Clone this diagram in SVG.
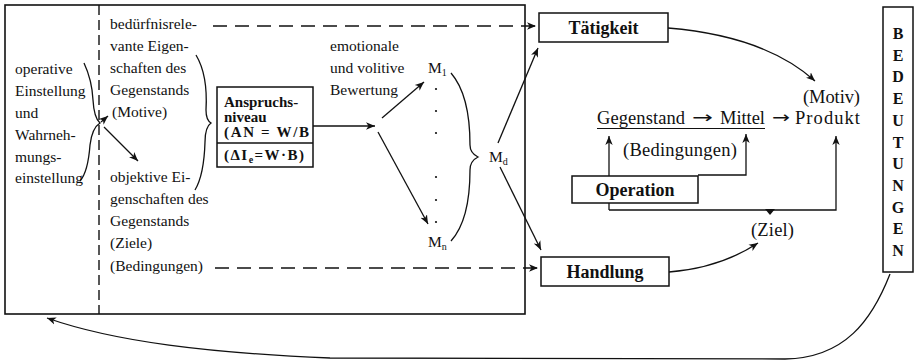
<svg xmlns="http://www.w3.org/2000/svg" width="916" height="362" viewBox="0 0 916 362">
<style>
text{font-family:"Liberation Serif","Times New Roman",serif;fill:#111}
.s{font-size:15.5px}
.r{font-size:18.5px}
.b{font-weight:bold}
.arr{font-family:"DejaVu Sans","Liberation Sans",sans-serif;font-size:16px}
.box{fill:#fff;stroke:#111;stroke-width:1.5}
.ln{fill:none;stroke:#111;stroke-width:1.3}
.dash{fill:none;stroke:#111;stroke-width:1.6;stroke-dasharray:14 8}
.vdash{fill:none;stroke:#111;stroke-width:1.4;stroke-dasharray:10 5}
</style>
<defs>
<marker id="ah" markerUnits="userSpaceOnUse" markerWidth="11" markerHeight="9" refX="9" refY="4.5" orient="auto">
<path d="M0,0.8 L9,4.5 L0,8.2 L2.5,4.5 z" fill="#111"/>
</marker>
</defs>

<g id="frame">
<rect x="5" y="5" width="520" height="309" fill="none" stroke="#111" stroke-width="1.6"/>
<line class="vdash" x1="99" y1="5" x2="99" y2="314"/>
</g>

<g id="connectors">
<line class="dash" x1="213" y1="26" x2="536" y2="26" marker-end="url(#ah)"/>
<line class="dash" x1="215" y1="268" x2="538" y2="268" marker-end="url(#ah)"/>
<path class="ln" d="M101,122 L108,116" marker-end="url(#ah)"/>
<path class="ln" d="M104,127 L138,161" marker-end="url(#ah)"/>
<line class="ln" x1="313" y1="126" x2="375" y2="126" marker-end="url(#ah)"/>
<line class="ln" x1="382" y1="118" x2="424" y2="82" marker-end="url(#ah)"/>
<line class="ln" x1="378" y1="132" x2="428" y2="224" marker-end="url(#ah)"/>
<line class="ln" x1="498" y1="143" x2="538" y2="48" marker-end="url(#ah)"/>
<line class="ln" x1="500" y1="167" x2="541" y2="250" marker-end="url(#ah)"/>
<path class="ln" d="M668,28 Q765,36 815,81" marker-end="url(#ah)"/>
<path class="ln" d="M669,272 Q720,268 758,243" marker-end="url(#ah)"/>
<path class="ln" d="M609,210 L609,136" marker-end="url(#ah)"/>
<path class="ln" d="M609,210 L836,210 L836,136" marker-end="url(#ah)"/>
<path class="ln" d="M698,175 L746,175 L746,134" marker-end="url(#ah)"/>
<polygon points="765,209 775,209 770,215" fill="#111"/>
<path class="ln" d="M890,274 C872,320 845,358 785,359 L330,358 C210,353 115,342 47,318" marker-end="url(#ah)"/>
</g>

<g id="braces">
<path class="ln" d="M84,63 Q92,80 93,100 Q94,118 100,123 Q92,128 90,145 Q88,172 80,181"/>
<path class="ln" d="M196,55 Q208,75 206,110 Q206,120 211,123 Q205,127 205,142 Q204,175 195,190"/>
<path class="ln" d="M451,73 Q470,95 470,145 Q470,153 478,157 Q470,161 470,170 Q470,220 451,241"/>
</g>

<g id="left-text" class="s">
<text x="15" y="74">operative</text>
<text x="15" y="96">Einstellung</text>
<text x="15" y="118">und</text>
<text x="15" y="140">Wahrneh-</text>
<text x="15" y="162">mungs-</text>
<text x="15" y="183">einstellung</text>
</g>

<g id="middle-text" class="s">
<text x="110" y="29">bedürfnisrele-</text>
<text x="110" y="51">vante Eigen-</text>
<text x="110" y="73">schaften des</text>
<text x="110" y="95">Gegenstands</text>
<text x="112" y="117">(Motive)</text>
<text x="110" y="182">objektive Ei-</text>
<text x="110" y="204">genschaften des</text>
<text x="110" y="226">Gegenstands</text>
<text x="110" y="248">(Ziele)</text>
<text x="110" y="271">(Bedingungen)</text>
</g>

<g id="anspruchsniveau">
<rect class="box" x="217" y="87" width="96" height="80"/>
<line x1="217" y1="143" x2="313" y2="143" stroke="#111" stroke-width="1.5"/>
<text x="224" y="107" class="b" font-size="15">Anspruchs-</text>
<text x="224" y="122" class="b" font-size="15">niveau</text>
<text x="224" y="137" class="b" font-size="15" textLength="85">(AN = W/B</text>
<text x="224" y="160" class="b" font-size="15" textLength="80">(ΔI<tspan font-size="10" dy="3">e</tspan><tspan dy="-3">=W·B)</tspan></text>
</g>

<g id="bewertung" class="s">
<text x="330" y="51">emotionale</text>
<text x="330" y="73">und volitive</text>
<text x="330" y="95">Bewertung</text>
</g>

<g id="motive-m">
<text x="428" y="73" font-size="15.5">M<tspan font-size="10" dy="3">1</tspan></text>
<text x="428" y="247" font-size="15.5">M<tspan font-size="10" dy="3">n</tspan></text>
<text x="489" y="162" font-size="15.5">M<tspan font-size="10" dy="3">d</tspan></text>
<g fill="#111">
<circle cx="436" cy="89" r="1.1"/><circle cx="436" cy="111" r="1.1"/><circle cx="436" cy="133" r="1.1"/>
<circle cx="436" cy="177" r="1.1"/><circle cx="436" cy="200" r="1.1"/><circle cx="436" cy="222" r="1.1"/>
</g>
</g>

<g id="taetigkeit">
<rect class="box" x="539" y="13" width="129" height="29"/>
<text x="603.5" y="34" text-anchor="middle" class="b" font-size="18">Tätigkeit</text>
</g>

<g id="handlung">
<rect class="box" x="541" y="257" width="128" height="29"/>
<text x="605" y="278" text-anchor="middle" class="b" font-size="18">Handlung</text>
</g>

<g id="operation">
<rect class="box" x="572" y="176" width="126" height="27"/>
<text x="635" y="196" text-anchor="middle" class="b" font-size="18">Operation</text>
</g>

<g id="gegenstand-kette" class="r">
<text x="597" y="124" textLength="88">Gegenstand</text>
<text x="692" y="123" class="arr" textLength="21" lengthAdjust="spacingAndGlyphs">→</text>
<text x="720" y="124" textLength="45">Mittel</text>
<text x="772" y="123" class="arr" textLength="18" lengthAdjust="spacingAndGlyphs">→</text>
<text x="795" y="124" textLength="65">Produkt</text>
<line x1="597" y1="128.5" x2="765" y2="128.5" stroke="#111" stroke-width="1.2"/>
<text x="803" y="103" textLength="57">(Motiv)</text>
<text x="623" y="156" textLength="114">(Bedingungen)</text>
<text x="751" y="236" textLength="43">(Ziel)</text>
</g>

<g id="bedeutungen">
<rect class="box" x="883" y="7" width="30" height="265"/>
<g class="b" font-size="16" text-anchor="middle">
<text x="898" y="39">B</text>
<text x="898" y="60.7">E</text>
<text x="898" y="82.4">D</text>
<text x="898" y="104.1">E</text>
<text x="898" y="125.8">U</text>
<text x="898" y="147.5">T</text>
<text x="898" y="169.2">U</text>
<text x="898" y="190.9">N</text>
<text x="898" y="212.6">G</text>
<text x="898" y="234.3">E</text>
<text x="898" y="256">N</text>
</g>
</g>
</svg>
